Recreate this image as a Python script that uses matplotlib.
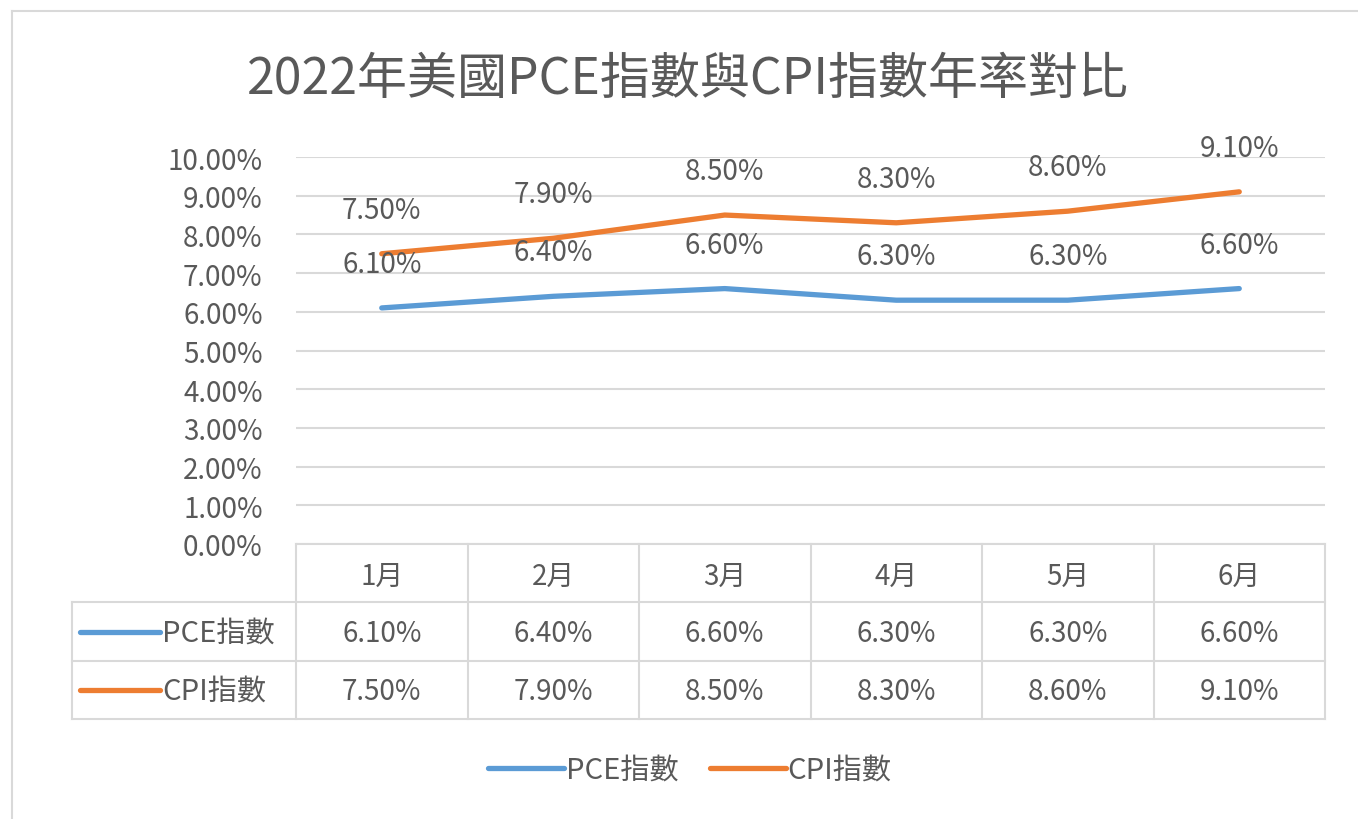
import matplotlib
matplotlib.use("Agg")
import matplotlib.pyplot as plt
from matplotlib.lines import Line2D

plt.rcParams['font.family'] = ['Noto Sans CJK TC', 'DejaVu Sans']

months = ['1月', '2月', '3月', '4月', '5月', '6月']
pce = [6.1, 6.4, 6.6, 6.3, 6.3, 6.6]
cpi = [7.5, 7.9, 8.5, 8.3, 8.6, 9.1]
series_names = ['PCE指數', 'CPI指數']
yticks = [0, 1, 2, 3, 4, 5, 6, 7, 8, 9, 10]
title = '2022年美國PCE指數與CPI指數年率對比'

blue = '#5B9BD5'
orange = '#ED7D31'
text_col = '#595959'
grid_col = '#d9d9d9'
fs = 20

W, H = 1358, 820


def rect(x0, y0, x1, y1):
    # pixel box -> figure fraction
    return [x0 / W, 1 - y1 / H, (x1 - x0) / W, (y1 - y0) / H]


fig = plt.figure(figsize=(W / 100, H / 100), dpi=100)

# chart border (top and left visible)
fig.add_artist(Line2D([12 / W, 1], [1 - 12 / H, 1 - 12 / H], color=grid_col, lw=1.5))
fig.add_artist(Line2D([12 / W, 12 / W], [0, 1 - 12 / H], color=grid_col, lw=1.5))

fig.text(688 / W, 1 - 80 / H, title, ha='center', va='center', fontsize=36, color=text_col)

# main plot
ax = fig.add_axes(rect(296, 158, 1325, 545))
x = list(range(len(months)))
l1, = ax.plot(x, pce, color=blue, lw=3.8, solid_capstyle='round', label=series_names[0], zorder=3)
l2, = ax.plot(x, cpi, color=orange, lw=3.8, solid_capstyle='round', label=series_names[1], zorder=3)
for vals in (pce, cpi):
    for i, v in enumerate(vals):
        ax.annotate(f'{v:.2f}%', (i, v), xytext=(0, 44), textcoords='offset pixels',
                    ha='center', va='center', fontsize=fs, color=text_col)

ax.set_xlim(-0.5, len(months) - 0.5)
ax.set_ylim(0, 10)
ax.set_yticks(yticks)
ax.set_yticklabels([f'{v:.2f}%' for v in yticks])
ax.tick_params(axis='y', length=0, pad=24, labelsize=fs, labelcolor=text_col)
ax.set_xticks([])
ax.grid(axis='y', color=grid_col, lw=1.5)
ax.set_axisbelow(True)
for s in ax.spines.values():
    s.set_visible(False)

# data table below the plot
tax = fig.add_axes(rect(72, 545, 1325, 720))
left = -0.5 - 224 / 171.5
right = len(months) - 0.5
tax.set_xlim(left, right)
tax.set_ylim(3, 0)
tax.axis('off')
tk = dict(color=grid_col, lw=1.5, clip_on=False)
tax.plot([-0.5, right], [0, 0], **tk)
for r in (1, 2, 3):
    tax.plot([left, right], [r, r], **tk)
for k in range(len(months) + 1):
    tax.plot([-0.5 + k, -0.5 + k], [0, 3], **tk)
tax.plot([left, left], [1, 3], **tk)

for i, m in enumerate(months):
    tax.text(i, 0.55, m, ha='center', va='center', fontsize=fs, color=text_col)
for r, (vals, name, col) in enumerate(((pce, series_names[0], blue), (cpi, series_names[1], orange)), start=1):
    for i, v in enumerate(vals):
        tax.text(i, r + 0.52, f'{v:.2f}%', ha='center', va='center', fontsize=fs, color=text_col)
    kx0 = left + 8 / 171.5
    kx1 = left + 88 / 171.5
    tax.plot([kx0, kx1], [r + 0.5, r + 0.5], color=col, lw=3.8, solid_capstyle='round')
    tax.text(kx1 + 2 / 171.5, r + 0.52, name, ha='left', va='center', fontsize=fs + 1, color=text_col)

# legend at the bottom
fig.legend(handles=[l1, l2], loc='center', bbox_to_anchor=(690 / W, 1 - 771 / H), ncol=2,
           frameon=False, prop={'size': fs + 1}, labelcolor=text_col, handlelength=2.6,
           handletextpad=0.05, columnspacing=1.1)

fig.savefig('out.png', dpi=100)
